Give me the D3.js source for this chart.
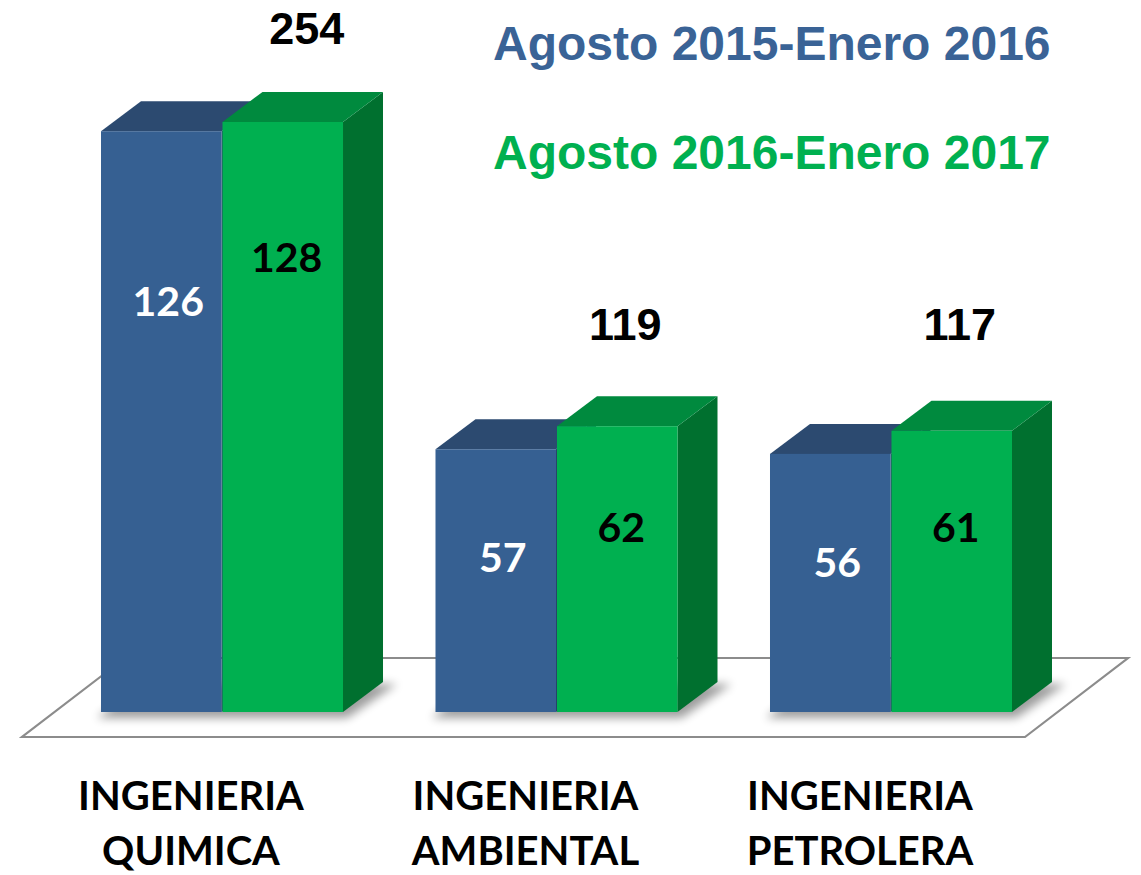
<!DOCTYPE html>
<html>
<head>
<meta charset="utf-8">
<script src="https://d3js.org/d3.v7.min.js"></script>
<style>
  body { margin: 0; background: #fff; }
  svg { display: block; }
</style>
</head>
<body>
<div id="container"></div>
<script>
// data
const categories = ['INGENIERIA QUIMICA', 'INGENIERIA AMBIENTAL', 'INGENIERIA PETROLERA'];
const series = ['Agosto 2015-Enero 2016', 'Agosto 2016-Enero 2017'];
const values2015 = [126, 57, 56];
const values2016 = [128, 62, 61];
const totals = [254, 119, 117];

// label nudges (px below the bar top), tuned by eye
const labelDy = [[185, 123, 123], [150, 116, 111]];

const w = 1141, h = 875;
const base = 712;          // front bottom edge of bars
const depthX = 40, depthY = 30;

const colors = [
  { front: '#366092', top: '#2c4a70', side: '#27426a', text: '#ffffff', legend: '#3a6396' },
  { front: '#00b050', top: '#008a3e', side: '#00702f', text: '#000000', legend: '#00b050' }
];

const svg = d3.select('#container').append('svg')
  .attr('width', w).attr('height', h);

const defs = svg.append('defs');
defs.append('filter').attr('id', 'shadow')
  .attr('x', '-50%').attr('y', '-50%').attr('width', '200%').attr('height', '200%')
  .append('feGaussianBlur').attr('stdDeviation', 5);

const xScale = d3.scaleBand()
  .domain(categories)
  .range([101, 1012])
  .paddingInner(0.2765)
  .paddingOuter(0);

const xInner = d3.scaleBand()
  .domain(series)
  .range([0, xScale.bandwidth()])
  .paddingInner(0.008);

const yScale = d3.scaleLinear()
  .domain([0, 128])
  .range([base, 122]);

// floor
const fl = { left: 22, right: 1025, front: 737, back: 658, dx: 103 };
svg.append('polygon')
  .attr('points', [
    [fl.left, fl.front], [fl.right, fl.front],
    [fl.right + fl.dx, fl.back], [fl.left + fl.dx, fl.back]
  ].map(p => p.join(',')).join(' '))
  .attr('fill', '#fff')
  .attr('stroke', '#8c8c8c')
  .attr('stroke-width', 2.2);

const rows = categories.map((c, i) => ({
  cat: c,
  vals: [values2015[i], values2016[i]],
  total: totals[i],
  i: i
}));

const groups = svg.selectAll('g.grp')
  .data(rows)
  .enter()
  .append('g')
  .attr('class', 'grp')
  .attr('transform', d => 'translate(' + xScale(d.cat) + ',0)');

// shadows on the floor
groups.append('polygon')
  .attr('points', d => {
    const x0 = 0, x1 = xScale.bandwidth();
    return [[x0 - 4, base + 6], [x1 + 4, base + 6], [x1 + depthX + 14, base - depthY + 2], [x0 + depthX, base - depthY + 2]]
      .map(p => p.join(',')).join(' ');
  })
  .attr('fill', '#000')
  .attr('opacity', 0.38)
  .attr('filter', 'url(#shadow)');

// the 3D bars
groups.each(function (d) {
  const g = d3.select(this);
  series.forEach((s, si) => {
    const v = d.vals[si];
    const x0 = xInner(s), x1 = x0 + xInner.bandwidth();
    const yt = yScale(v);
    const c = colors[si];
    // side face
    g.append('polygon')
      .attr('points', [[x1, yt], [x1 + depthX, yt - depthY], [x1 + depthX, base - depthY], [x1, base]]
        .map(p => p.join(',')).join(' '))
      .attr('fill', c.side);
    // top face
    g.append('polygon')
      .attr('points', [[x0, yt], [x1, yt], [x1 + depthX, yt - depthY], [x0 + depthX, yt - depthY]]
        .map(p => p.join(',')).join(' '))
      .attr('fill', c.top);
    // front face
    g.append('rect')
      .attr('x', x0)
      .attr('y', yt)
      .attr('width', xInner.bandwidth())
      .attr('height', base - yt)
      .attr('fill', c.front);
    // value label
    g.append('text')
      .attr('x', (x0 + x1) / 2 + (si === 0 ? 7 : 4))
      .attr('y', yt + labelDy[si][d.i])
      .attr('text-anchor', 'middle')
      .attr('font-family', 'Lato, "Open Sans", sans-serif')
      .attr('font-weight', 'bold')
      .attr('font-size', 41)
      .attr('fill', c.text)
      .text(v);
  });
  // total on top
  const s2 = series[1];
  g.append('text')
    .attr('x', xInner(s2) + xInner.bandwidth() / 2 + (d.i === 0 ? 24 : 8))
    .attr('y', d.i === 0 ? 44 : 340)
    .attr('text-anchor', 'middle')
    .attr('font-family', '"Liberation Sans", Arial, sans-serif')
    .attr('font-weight', 'bold')
    .attr('font-size', 45)
    .attr('fill', '#000')
    .text(d.total);
});

// category labels
const catText = svg.selectAll('text.cat')
  .data(categories)
  .enter()
  .append('text')
  .attr('class', 'cat')
  .attr('text-anchor', 'middle')
  .attr('font-family', 'Lato, "Open Sans", sans-serif')
  .attr('font-weight', 'bold')
  .attr('font-size', 40)
  .attr('fill', '#000');

catText.each(function (c) {
  const cx = xScale(c) + xScale.bandwidth() / 2 - 31;
  c.split(' ').forEach((word, k) => {
    d3.select(this).append('tspan')
      .attr('x', cx)
      .attr('y', 810 + k * 55)
      .text(word);
  });
});

// legend as coloured text
svg.selectAll('text.legend')
  .data(series)
  .enter()
  .append('text')
  .attr('class', 'legend')
  .attr('x', 493)
  .attr('y', (d, i) => 60 + i * 109)
  .attr('font-family', '"Liberation Sans", Arial, sans-serif')
  .attr('font-weight', 'bold')
  .attr('font-size', 48)
  .attr('fill', (d, i) => colors[i].legend)
  .text(d => d);
</script>
</body>
</html>
